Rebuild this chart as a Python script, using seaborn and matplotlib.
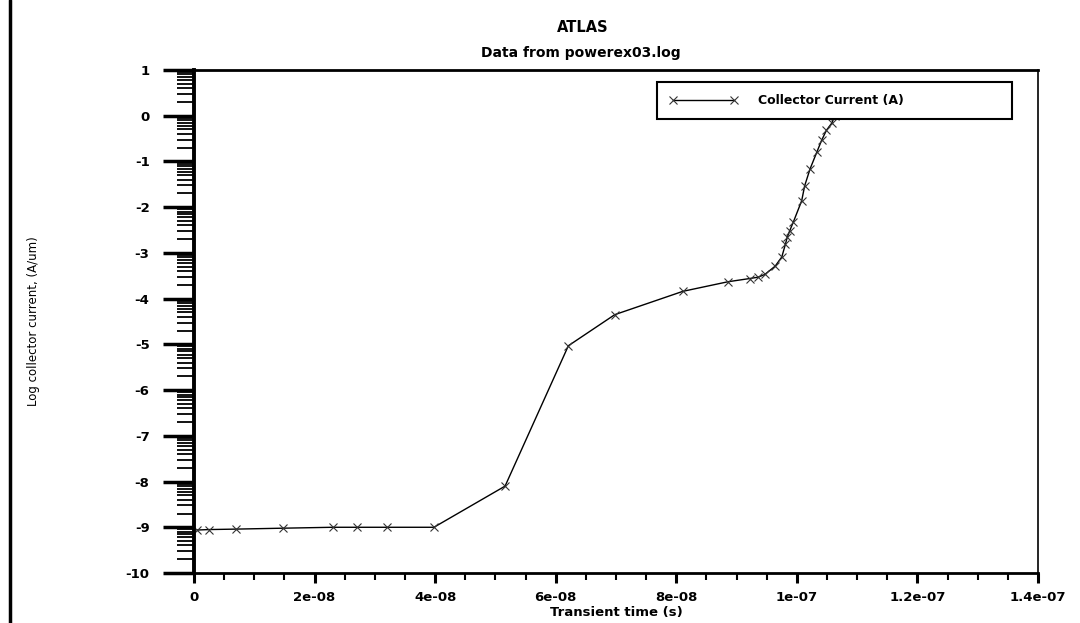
import numpy as np
import pandas as pd
import matplotlib
matplotlib.use("Agg")
import matplotlib.pyplot as plt
from matplotlib.lines import Line2D
from matplotlib.ticker import FixedLocator, MultipleLocator, FuncFormatter
import seaborn as sns

# ---- data ----
transient_time = [0.5e-9, 2.5e-9, 7.0e-9, 1.48e-8, 2.3e-8, 2.71e-8, 3.2e-8, 3.98e-8,
                  5.16e-8, 6.21e-8, 6.98e-8, 8.11e-8, 8.86e-8, 9.22e-8, 9.36e-8,
                  9.47e-8, 9.64e-8, 9.75e-8, 9.81e-8, 9.84e-8, 9.88e-8, 9.94e-8,
                  1.008e-7, 1.013e-7, 1.022e-7, 1.033e-7, 1.041e-7, 1.049e-7,
                  1.058e-7, 1.063e-7]
log_current = [-9.06, -9.05, -9.04, -9.02, -9.0, -9.0, -9.0, -9.0,
               -8.1, -5.03, -4.35, -3.84, -3.63, -3.56, -3.53,
               -3.47, -3.29, -3.09, -2.81, -2.66, -2.52, -2.33,
               -1.86, -1.53, -1.16, -0.80, -0.54, -0.32,
               -0.16, 0.0]
series_label = "Collector Current (A)"
x_tick_values = [0, 2e-8, 4e-8, 6e-8, 8e-8, 1e-7, 1.2e-7, 1.4e-7]
x_tick_labels = ["0", "2e-08", "4e-08", "6e-08", "8e-08", "1e-07", "1.2e-07", "1.4e-07"]
y_tick_values = list(range(-10, 2))
title_main = "ATLAS"
title_sub = "Data from powerex03.log"
x_label = "Transient time (s)"
y_label = "Log collector current, (A/um)"

df = pd.DataFrame({"t": transient_time, "v": log_current})

sns.set_style("ticks")
plt.rcParams['font.family'] = ['DejaVu Sans']
plt.rcParams['text.color'] = 'black'
plt.rcParams['axes.labelcolor'] = 'black'
plt.rcParams['xtick.color'] = 'black'
plt.rcParams['ytick.color'] = 'black'

W, H = 1080, 623
fig = plt.figure(figsize=(W / 100, H / 100), dpi=100)
ax = fig.add_axes([194 / W, 1 - 573 / H, (1038 - 194) / W, (573 - 70) / H])

sns.lineplot(data=df, x="t", y="v", ax=ax, color="black", linewidth=1.0,
             marker="x", markersize=6, markeredgewidth=0.8,
             markeredgecolor="#333333", label=series_label,
             estimator=None, sort=False)

ax.set_xlim(0, 1.4e-7)
ax.set_ylim(-10, 1)

# x ticks
ax.xaxis.set_major_locator(FixedLocator(x_tick_values))
ax.set_xticklabels(x_tick_labels)
ax.xaxis.set_minor_locator(MultipleLocator(5e-9))
ax.tick_params(axis="x", which="major", direction="out", length=7, width=2.2,
               pad=6, labelsize=9.5)
ax.tick_params(axis="x", which="minor", direction="out", length=5, width=1.5)

# y ticks (log-style minor ticks inside each decade)
ax.yaxis.set_major_locator(FixedLocator(y_tick_values))
minor_pos = [d + np.log10(k) for d in range(-10, 1) for k in range(2, 10)]
ax.yaxis.set_minor_locator(FixedLocator(minor_pos))
ax.yaxis.set_major_formatter(FuncFormatter(lambda v, p: f"{int(round(v))}"))
ax.tick_params(axis="y", which="major", direction="out", length=22, width=2.5,
               pad=10, labelsize=9.5)
ax.tick_params(axis="y", which="minor", direction="out", length=12, width=1.3)

for lab in ax.get_xticklabels() + ax.get_yticklabels():
    lab.set_fontweight("bold")

# spines
ax.spines["left"].set_linewidth(2.8)
ax.spines["bottom"].set_linewidth(2.0)
ax.spines["top"].set_linewidth(2.0)
ax.spines["right"].set_linewidth(1.2)
for s in ax.spines.values():
    s.set_color("black")
    s.set_visible(True)

# labels
ax.set_xlabel(x_label, fontsize=9.5, fontweight="bold")
ax.xaxis.set_label_coords(0.5, -0.066)
ax.set_ylabel(y_label, fontsize=8.5)
ax.yaxis.set_label_coords(-0.1825, 0.5)

fig.text(583 / W, 1 - 28 / H, title_main, ha="center", va="center",
         fontsize=10.5, fontweight="bold")
fig.text(581 / W, 1 - 53 / H, title_sub, ha="center", va="center",
         fontsize=10, fontweight="bold")

# legend
leg = ax.legend(loc="upper left",
                bbox_to_anchor=(657 / W, 1 - 119 / H, 355 / W, 37 / H),
                bbox_transform=fig.transFigure, mode="expand",
                borderaxespad=0, frameon=True, fancybox=False, framealpha=1,
                edgecolor="black", handlelength=5.5, handletextpad=1.6,
                numpoints=2, borderpad=0.95,
                prop={"weight": "bold", "size": 9})
leg.get_frame().set_linewidth(1.5)

# scanned page edge line at far left
fig.add_artist(Line2D([10 / W, 10 / W], [0, 1], transform=fig.transFigure,
                      color="black", linewidth=2.5))

fig.savefig("out.png", dpi=100)
